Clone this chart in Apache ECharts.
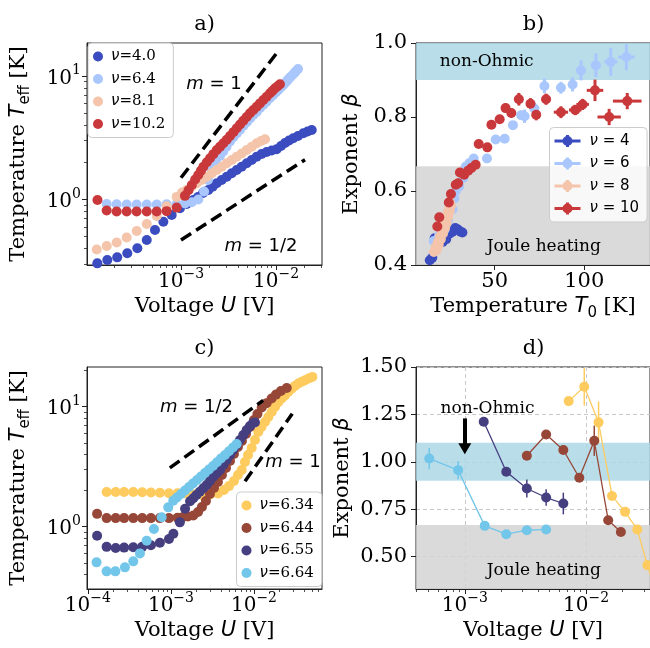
<!DOCTYPE html>
<html><head><meta charset="utf-8">
<script src="https://cdn.jsdelivr.net/npm/echarts@6/dist/echarts.min.js"></script>
<style>html,body{margin:0;padding:0;background:#fff}#c{width:650px;height:648px}</style>
</head><body><div id="c"></div>
<script>
// ---------------- data ----------------
// panel a: [U (V), T_eff (K)]
const aNu40 = [[1.315e-4,0.304],[1.675e-4,0.324],[2.13e-4,0.340],[2.72e-4,0.367],[3.47e-4,0.403],[4.36e-4,0.470],[5.32e-4,0.566],[6.52e-4,0.661],[7.98e-4,0.749],[9.76e-4,0.849],[1.148e-3,0.92],[1.346e-3,0.991],[1.51e-3,1.048],[1.705e-3,1.129],[1.94e-3,1.194],[2.15e-3,1.27],[2.377e-3,1.352],[2.68e-3,1.438],[3.03e-3,1.53],[3.42e-3,1.63],[3.86e-3,1.733],[4.35e-3,1.844],[4.92e-3,1.964],[5.55e-3,2.089],[6.26e-3,2.222],[7.06e-3,2.336],[7.98e-3,2.425],[9.01e-3,2.493],[1.016e-2,2.55],[1.129e-2,2.71],[1.245e-2,2.868],[1.372e-2,3.004],[1.52e-2,3.13],[1.705e-2,3.27],[1.94e-2,3.435],[2.15e-2,3.553],[2.377e-2,3.655]];
const aNu64 = [[1.65e-4,0.92],[2.10e-4,0.915],[2.68e-4,0.91],[3.41e-4,0.91],[4.36e-4,0.91],[5.55e-4,0.91],[7.06e-4,0.915],[9.0e-4,0.92],[1.1e-3,0.93],[1.3e-3,0.95],[1.52e-3,1.0],[1.75e-3,1.16],[1.92e-3,1.44],[2.12e-3,1.73],[2.33e-3,1.98],[2.57e-3,2.25],[2.78e-3,2.45],[3.01e-3,2.68],[3.28e-3,2.95],[3.57e-3,3.2],[3.86e-3,3.42],[4.18e-3,3.67],[4.55e-3,3.95],[4.95e-3,4.25],[5.36e-3,4.55],[5.8e-3,4.85],[6.28e-3,5.15],[6.79e-3,5.5],[7.35e-3,5.85],[7.94e-3,6.2],[8.6e-3,6.6],[9.3e-3,7.0],[1.0e-2,7.4],[1.062e-2,7.75],[1.13e-2,8.1],[1.199e-2,8.5],[1.27e-2,8.9],[1.337e-2,9.35],[1.42e-2,9.8],[1.51e-2,10.3],[1.6e-2,10.8],[1.705e-2,11.4]];
const aNu81 = [[1.297e-4,0.394],[1.652e-4,0.42],[2.105e-4,0.449],[2.68e-4,0.492],[3.42e-4,0.556],[4.36e-4,0.633],[5.55e-4,0.735],[7.06e-4,0.88],[9.0e-4,1.05],[1.025e-3,1.14],[1.148e-3,1.194],[1.297e-3,1.274],[1.464e-3,1.352],[1.652e-3,1.438],[1.866e-3,1.53],[2.106e-3,1.63],[2.377e-3,1.733],[2.68e-3,1.844],[3.03e-3,1.964],[3.42e-3,2.089],[3.86e-3,2.222],[4.35e-3,2.358],[4.92e-3,2.518],[5.55e-3,2.676],[6.26e-3,2.85],[6.96e-3,2.98],[7.66e-3,3.07]];
const aNu102 = [[1.32e-4,0.99],[1.65e-4,0.815],[2.10e-4,0.80],[2.68e-4,0.80],[3.41e-4,0.80],[4.36e-4,0.80],[5.55e-4,0.80],[7.06e-4,0.805],[9.0e-4,0.86],[1.10e-3,1.07],[1.20e-3,1.19],[1.30e-3,1.31],[1.41e-3,1.45],[1.52e-3,1.58],[1.62e-3,1.71],[1.72e-3,1.84],[1.87e-3,2.0],[2.02e-3,2.16],[2.19e-3,2.33],[2.38e-3,2.52],[2.58e-3,2.68],[2.79e-3,2.85],[3.03e-3,3.05],[3.28e-3,3.27],[3.56e-3,3.51],[3.86e-3,3.77],[4.18e-3,4.05],[4.53e-3,4.35],[4.91e-3,4.66],[5.32e-3,4.99],[5.77e-3,5.31],[6.26e-3,5.64],[6.78e-3,6.0],[7.35e-3,6.39],[7.97e-3,6.8],[8.65e-3,7.24],[9.2e-3,7.6],[9.76e-3,7.95],[1.04e-2,8.25],[1.10e-2,8.57]];
const aSlope1 = [[1e-3,1.5],[1.016e-2,15.3]];
const aSlopeHalf = [[1e-3,0.47],[2.02e-2,2.1]];

// panel b: [T0 (K), beta, errT, errBeta]
const bNu4 = [[13.8,0.413,0.8,0.006],[15.2,0.42,0.8,0.006],[16.5,0.472,0.8,0.008],[18.5,0.466,0.9,0.008],[21.0,0.462,1.0,0.008],[23.0,0.47,1.0,0.008],[25.0,0.485,1.0,0.008],[26.5,0.49,1.2,0.008],[28.0,0.5,1.2,0.008],[29.5,0.496,1.5,0.008],[31.0,0.49,2.0,0.008],[32.0,0.488,2.0,0.008]];
const bNu6 = [[16,0.465,0.5,0.005],[19,0.48,0.5,0.005],[22,0.495,0.5,0.005],[24,0.52,0.5,0.005],[26.5,0.55,0.5,0.005],[27.5,0.58,0.5,0.005],[28.3,0.60,0.5,0.005],[30.2,0.612,0.6,0.006],[32.4,0.635,0.6,0.006],[33.9,0.666,0.7,0.006],[36.1,0.676,0.8,0.007],[38.3,0.688,0.8,0.007],[45.7,0.688,1.0,0.008],[50.6,0.739,1.0,0.008],[55.6,0.741,1.2,0.009],[60.2,0.778,1.2,0.01],[64.8,0.805,1.5,0.012],[66.7,0.802,1.5,0.018],[72.2,0.823,1.5,0.015],[77.8,0.884,1.5,0.02],[87.0,0.879,2.0,0.016],[93.5,0.888,2.0,0.019],[98.2,0.926,2.2,0.027],[106.5,0.940,2.8,0.032],[114.8,0.949,3.7,0.038],[123.5,0.962,4.6,0.036]];
const bNu8 = [[16.1,0.435,0.3,0.004],[17.2,0.449,0.3,0.004],[17.6,0.44,0.3,0.004],[18.3,0.462,0.3,0.004],[18.8,0.455,0.3,0.004],[19.4,0.476,0.3,0.004],[20.0,0.47,0.3,0.004],[20.6,0.489,0.3,0.004],[21.2,0.485,0.3,0.004],[21.4,0.503,0.3,0.004],[22.2,0.516,0.3,0.004],[22.3,0.5,0.3,0.004],[23.1,0.53,0.3,0.004],[23.2,0.515,0.3,0.004],[23.9,0.543,0.3,0.004],[24.0,0.53,0.3,0.004],[24.7,0.557,0.3,0.004],[25.0,0.545,0.3,0.004],[25.0,0.57,0.3,0.004],[25.6,0.56,0.3,0.004]];
const bNu10 = [[18.0,0.504,0.6,0.008],[19.1,0.529,0.6,0.008],[24.4,0.569,0.7,0.008],[25.6,0.592,0.7,0.008],[28.3,0.617,0.8,0.008],[29.6,0.621,0.8,0.008],[30.6,0.650,0.8,0.008],[33.0,0.644,0.9,0.008],[35.2,0.655,0.9,0.008],[37.0,0.662,1.0,0.009],[39.4,0.671,1.0,0.009],[41.1,0.727,1.0,0.01],[45.9,0.718,1.2,0.01],[48.2,0.779,1.2,0.01],[52.8,0.794,1.3,0.01],[56.1,0.824,1.4,0.012],[59.3,0.811,1.5,0.012],[63.5,0.848,1.6,0.017],[70.0,0.836,1.8,0.015],[73.2,0.806,2.0,0.015],[78.7,0.848,2.5,0.015],[87.0,0.813,4.0,0.016],[95.0,0.819,3.5,0.014],[99.1,0.834,3.5,0.015],[106.0,0.872,4.6,0.029],[113.9,0.800,6.5,0.022],[124.0,0.843,8.0,0.022]];
const bBandOhmic = [0.9, 1.0];
const bBandJoule = [0.4, 0.6667];

// panel c: [U (V), T_eff (K)]
const cNu634 = [[1.68e-4,1.95],[2.16e-4,1.95],[2.73e-4,1.95],[3.52e-4,1.95],[4.51e-4,1.94],[5.74e-4,1.93],[7.36e-4,1.92],[9.46e-4,1.90],[1.2e-3,1.90],[1.52e-3,1.89],[1.89e-3,1.855],[2.36e-3,1.837],[2.95e-3,1.855],[3.68e-3,1.89],[4.35e-3,2.02],[5.0e-3,2.18],[5.74e-3,2.40],[6.41e-3,2.70],[7.11e-3,2.97],[7.79e-3,3.46],[8.48e-3,3.96],[9.38e-3,4.53],[1.028e-2,5.28],[1.127e-2,6.15],[1.231e-2,6.77],[1.357e-2,7.46],[1.487e-2,8.2],[1.633e-2,9.03],[1.79e-2,9.94],[1.96e-2,10.9],[2.16e-2,11.7],[2.36e-2,12.4],[2.59e-2,13.3],[2.84e-2,14.1],[3.12e-2,14.9],[3.42e-2,15.6],[3.76e-2,16.1],[4.12e-2,16.6],[4.56e-2,17.2],[5.04e-2,17.7]];
const cNu644 = [[1.29e-4,1.28],[1.68e-4,1.18],[2.16e-4,1.18],[2.73e-4,1.18],[3.52e-4,1.18],[4.51e-4,1.18],[5.74e-4,1.18],[7.36e-4,1.18],[9.46e-4,1.18],[1.2e-3,1.19],[1.40e-3,1.205],[1.60e-3,1.216],[1.86e-3,1.24],[2.12e-3,1.326],[2.36e-3,1.459],[2.64e-3,1.637],[2.95e-3,1.873],[3.30e-3,2.10],[3.68e-3,2.36],[4.11e-3,2.70],[4.60e-3,3.08],[5.14e-3,3.53],[5.74e-3,4.04],[6.41e-3,4.62],[7.16e-3,5.18],[8.01e-3,5.92],[8.95e-3,6.77],[1.0e-2,7.75],[1.10e-2,8.69],[1.24e-2,9.85],[1.42e-2,10.7],[1.63e-2,11.7],[1.84e-2,12.6],[2.11e-2,13.5],[2.48e-2,14.3]];
const cNu655 = [[1.29e-4,0.84],[1.68e-4,0.68],[2.16e-4,0.665],[2.73e-4,0.67],[3.52e-4,0.675],[4.51e-4,0.68],[5.74e-4,0.70],[7.36e-4,0.735],[9.46e-4,0.79],[1.07e-3,0.874],[1.28e-3,1.088],[1.48e-3,1.41],[1.70e-3,1.63],[1.86e-3,1.725],[2.03e-3,1.837],[2.23e-3,1.957],[2.45e-3,2.09],[2.69e-3,2.226],[2.95e-3,2.40],[3.24e-3,2.61],[3.56e-3,2.786],[3.89e-3,2.97],[4.27e-3,3.27],[4.69e-3,3.59],[5.14e-3,3.96],[5.64e-3,4.36],[6.19e-3,4.80],[6.78e-3,5.28],[7.43e-3,5.81],[8.16e-3,6.39],[8.95e-3,6.90],[9.73e-3,7.31],[1.028e-2,7.38]];
const cNu664 = [[1.27e-4,0.505],[1.68e-4,0.425],[2.14e-4,0.425],[2.79e-4,0.459],[3.52e-4,0.515],[4.23e-4,0.60],[5.1e-4,0.765],[6.24e-4,0.957],[7.73e-4,1.198],[9.28e-4,1.45],[1.066e-3,1.646],[1.18e-3,1.751],[1.32e-3,1.873],[1.475e-3,2.003],[1.65e-3,2.142],[1.84e-3,2.291],[2.06e-3,2.449],[2.30e-3,2.62],[2.57e-3,2.80],[2.87e-3,3.00],[3.21e-3,3.21],[3.58e-3,3.44],[4.00e-3,3.70],[4.48e-3,3.96],[5.0e-3,4.25],[5.58e-3,4.57],[6.19e-3,4.89]];
const cSlopeHalf = [[9.7e-4,3.09],[1.29e-2,11.3]];
const cSlope1 = [[7.8e-3,2.39],[2.89e-2,8.75]];

// panel d: [U (V), beta, errBeta]
const dNu634 = [[7.2e-3,1.32,0.015],[9.68e-3,1.396,0.1],[1.27e-2,1.208,0.11],[1.64e-2,0.82,0.015],[2.10e-2,0.736,0.012],[2.65e-2,0.643,0.012],[3.21e-2,0.455,0.015],[3.8e-2,0.30,0.01]];
const dNu644 = [[3.25e-3,1.032,0.01],[4.69e-3,1.144,0.01],[6.50e-3,1.062,0.012],[8.81e-3,0.916,0.01],[1.17e-2,1.111,0.08],[1.525e-2,0.692,0.015],[1.94e-2,0.630,0.012]];
const dNu655 = [[1.433e-3,1.211,0.02],[2.20e-3,0.947,0.02],[3.25e-3,0.859,0.047],[4.69e-3,0.8115,0.044],[6.50e-3,0.78,0.057]];
const dNu664 = [[5.09e-4,1.017,0.056],[8.81e-4,0.956,0.048],[1.46e-3,0.662,0.01],[2.20e-3,0.618,0.01],[3.25e-3,0.639,0.01],[4.69e-3,0.643,0.01]];
const dBandOhmic = [0.9, 1.1];
const dBandJoule = [0.329, 0.6667];
const dArrow = [[1e-3,1.229],[1e-3,1.069]];

// tick values
const aXTicks = [1e-3, 1e-2];
const aYTicks = [1, 10];
const bXTicks = [50, 100];
const bYTicks = [0.4, 0.6, 0.8, 1.0];
const cXTicks = [1e-4, 1e-3, 1e-2];
const cYTicks = [1, 10];
const dXTicks = [1e-3, 1e-2];
const dYTicks = [0.5, 0.75, 1.0, 1.25, 1.5];

// ---------------- style helpers ----------------
const SERIF = 'DejaVu Serif';
const SANS = 'DejaVu Sans';
const INK = '#222';
const colA = ['#3b4cc0', '#aac7fd', '#f4c4ab', '#c9383a'];
const colC = ['#fecb5e', '#974737', '#453f80', '#72c6ea'];
const blueBand = 'rgba(173,216,230,0.85)';
const grayBand = 'rgba(211,211,211,0.85)';

function minorLog(min, max) {
  const out = [];
  for (let e = Math.floor(Math.log10(min)); e <= Math.ceil(Math.log10(max)); e++) {
    for (let k = 2; k <= 9; k++) { const v = k * Math.pow(10, e); if (v >= min && v <= max) out.push(v); }
  }
  return out;
}
function pow10Label(v) {
  const e = Math.round(Math.log10(v));
  return '{b|10}{s|' + (e < 0 ? '\u2212' + (-e) : String(e)) + '}';
}
const powRich = {
  b: { fontFamily: SERIF, fontSize: 20, color: '#000', verticalAlign: 'bottom', padding: [5, 0, 0, 0] },
  s: { fontFamily: SERIF, fontSize: 14, color: '#000', verticalAlign: 'top' }
};
const nameStyle = {
  fontFamily: SERIF, fontSize: 21, color: '#000',
  rich: {
    r: { fontFamily: SERIF, fontSize: 21, color: '#000', verticalAlign: 'top' },
    i: { fontFamily: SANS, fontStyle: 'italic', fontSize: 21, color: '#000', verticalAlign: 'top' },
    sub: { fontFamily: SANS, fontSize: 15, color: '#000', verticalAlign: 'top', padding: [10, 0, 0, 0] }
  }
};
const lineStyleAx = { color: INK, width: 1 };

function mainAxis(o) {
  const ax = {
    gridIndex: o.grid, type: o.type, position: o.pos, min: o.min, max: o.max,
    axisLine: { show: true, onZero: false, lineStyle: lineStyleAx },
    axisTick: { show: true, length: 5, customValues: o.ticks, lineStyle: lineStyleAx },
    axisLabel: { show: true, customValues: o.ticks, margin: o.margin, color: '#000', fontFamily: SERIF, fontSize: 21, formatter: o.fmt },
    splitLine: { show: !!o.split, lineStyle: { color: '#c8c8c8', width: 1, type: [4, 3] } },
    name: o.name, nameLocation: 'middle', nameGap: o.gap, nameTextStyle: nameStyle,
    silent: true
  };
  if (o.type === 'log') { ax.logBase = 10; ax.axisLabel.rich = powRich; }
  return ax;
}
function minorAxis(o) {
  return {
    gridIndex: o.grid, type: 'log', logBase: 10, position: o.pos, min: o.min, max: o.max,
    axisLine: { show: false }, axisLabel: { show: false }, splitLine: { show: false },
    axisTick: { show: true, length: 3, customValues: minorLog(o.min, o.max), lineStyle: { color: INK, width: 0.8 } },
    silent: true
  };
}

const AX = {
  a: { x: [1.024e-4, 0.03049], y: [0.2949, 18.5] },
  b: { x: [6.1, 136.7], y: [0.4, 1.0] },
  c: { x: [9.75e-5, 0.06595], y: [0.303, 21.4] },
  d: { x: [3.957e-4, 0.03374], y: [0.329, 1.5] }
};

const xAxis = [
  mainAxis({ grid: 0, type: 'log', pos: 'bottom', min: AX.a.x[0], max: AX.a.x[1], ticks: aXTicks, fmt: pow10Label, margin: 2, name: '{r|Voltage }{i|U}{r| [V]}', gap: 31 }),
  minorAxis({ grid: 0, pos: 'bottom', min: AX.a.x[0], max: AX.a.x[1] }),
  mainAxis({ grid: 1, type: 'value', pos: 'bottom', min: AX.b.x[0], max: AX.b.x[1], ticks: bXTicks, fmt: v => String(v), margin: 6, name: '{r|Temperature }{i|T}{sub|0}{r| [K]}', gap: 31 }),
  mainAxis({ grid: 2, type: 'log', pos: 'bottom', min: AX.c.x[0], max: AX.c.x[1], ticks: cXTicks, fmt: pow10Label, margin: 2, name: '{r|Voltage }{i|U}{r| [V]}', gap: 31 }),
  minorAxis({ grid: 2, pos: 'bottom', min: AX.c.x[0], max: AX.c.x[1] }),
  mainAxis({ grid: 3, type: 'log', pos: 'bottom', min: AX.d.x[0], max: AX.d.x[1], ticks: dXTicks, fmt: pow10Label, margin: 2, name: '{r|Voltage }{i|U}{r| [V]}', gap: 31, split: true }),
  minorAxis({ grid: 3, pos: 'bottom', min: AX.d.x[0], max: AX.d.x[1] })
];
const yAxis = [
  mainAxis({ grid: 0, type: 'log', pos: 'left', min: AX.a.y[0], max: AX.a.y[1], ticks: aYTicks, fmt: pow10Label, margin: 6, name: '{r|Temperature }{i|T}{sub|eff}{r| [K]}', gap: 54 }),
  minorAxis({ grid: 0, pos: 'left', min: AX.a.y[0], max: AX.a.y[1] }),
  mainAxis({ grid: 1, type: 'value', pos: 'left', min: AX.b.y[0], max: AX.b.y[1], ticks: bYTicks, fmt: v => v.toFixed(1), margin: 9, name: '{r|Exponent }{i|β}', gap: 54 }),
  mainAxis({ grid: 2, type: 'log', pos: 'left', min: AX.c.y[0], max: AX.c.y[1], ticks: cYTicks, fmt: pow10Label, margin: 6, name: '{r|Temperature }{i|T}{sub|eff}{r| [K]}', gap: 54 }),
  minorAxis({ grid: 2, pos: 'left', min: AX.c.y[0], max: AX.c.y[1] }),
  mainAxis({ grid: 3, type: 'value', pos: 'left', min: AX.d.y[0], max: AX.d.y[1], ticks: dYTicks, fmt: v => v.toFixed(2), margin: 9, name: '{r|Exponent }{i|β}', gap: 63, split: true })
];

function scatter(name, data, xi, yi, color) {
  return { type: 'scatter', name, data, xAxisIndex: xi, yAxisIndex: yi, symbol: 'circle', symbolSize: 10,
    itemStyle: { color, opacity: 1 }, emphasis: { disabled: true }, z: 2 };
}
function dashed(data, xi, yi) {
  return { type: 'line', data, xAxisIndex: xi, yAxisIndex: yi, symbol: 'none', silent: true, z: 5,
    lineStyle: { color: '#000', width: 3.5, type: [12, 6] } };
}
function errBars(name, data, xi, yi, color, lw, hasX) {
  return {
    type: 'custom', name, data, xAxisIndex: xi, yAxisIndex: yi, clip: true, silent: true, z: 2,
    encode: { x: 0, y: 1 },
    renderItem: function (params, api) {
      const x = api.value(0), y = api.value(1);
      const ex = hasX ? api.value(2) : 0;
      const ey = hasX ? api.value(3) : api.value(2);
      const t = api.coord([x, y + ey]), b = api.coord([x, y - ey]);
      const ch = [{ type: 'line', shape: { x1: t[0], y1: t[1], x2: b[0], y2: b[1] }, style: { stroke: color, lineWidth: lw } }];
      if (ex > 0) {
        const l = api.coord([x - ex, y]), r = api.coord([x + ex, y]);
        ch.push({ type: 'line', shape: { x1: l[0], y1: l[1], x2: r[0], y2: r[1] }, style: { stroke: color, lineWidth: lw } });
      }
      return { type: 'group', children: ch };
    }
  };
}
function bands(xi, yi, ohm, joule) {
  return { type: 'line', data: [], xAxisIndex: xi, yAxisIndex: yi, silent: true, z: 1,
    markArea: { silent: true, z: 1, data: [
      [{ yAxis: ohm[0], itemStyle: { color: blueBand } }, { yAxis: ohm[1] }],
      [{ yAxis: joule[0], itemStyle: { color: grayBand } }, { yAxis: joule[1] }]
    ] } };
}
function dLine(name, data, color) {
  return { type: 'line', name, data: data.map(p => [p[0], p[1]]), xAxisIndex: 5, yAxisIndex: 5,
    symbol: 'circle', symbolSize: 10, showSymbol: true, clip: true, z: 3,
    lineStyle: { color, width: 1.3 }, itemStyle: { color }, emphasis: { disabled: true } };
}

const series = [
  // panel a
  scatter('ν=4.0', aNu40, 0, 0, colA[0]),
  scatter('ν=6.4', aNu64, 0, 0, colA[1]),
  scatter('ν=8.1', aNu81, 0, 0, colA[2]),
  scatter('ν=10.2', aNu102, 0, 0, colA[3]),
  dashed(aSlope1, 0, 0),
  dashed(aSlopeHalf, 0, 0),
  // panel b
  bands(2, 2, bBandOhmic, bBandJoule),
  errBars('e4', bNu4, 2, 2, colA[0], 3, true), scatter('ν = 4', bNu4.map(p => [p[0], p[1]]), 2, 2, colA[0]),
  errBars('e6', bNu6, 2, 2, colA[1], 3, true), scatter('ν = 6', bNu6.map(p => [p[0], p[1]]), 2, 2, colA[1]),
  errBars('e8', bNu8, 2, 2, colA[2], 3, true), scatter('ν = 8', bNu8.map(p => [p[0], p[1]]), 2, 2, colA[2]),
  errBars('e10', bNu10, 2, 2, colA[3], 3, true), scatter('ν = 10', bNu10.map(p => [p[0], p[1]]), 2, 2, colA[3]),
  // panel c
  scatter('ν=6.34', cNu634, 3, 3, colC[0]),
  scatter('ν=6.44', cNu644, 3, 3, colC[1]),
  scatter('ν=6.55', cNu655, 3, 3, colC[2]),
  scatter('ν=6.64', cNu664, 3, 3, colC[3]),
  dashed(cSlopeHalf, 3, 3),
  dashed(cSlope1, 3, 3),
  // panel d
  bands(5, 5, dBandOhmic, dBandJoule),
  errBars('d1', dNu634, 5, 5, colC[0], 1.5, false), dLine('d ν=6.34', dNu634, colC[0]),
  errBars('d2', dNu644, 5, 5, colC[1], 1.5, false), dLine('d ν=6.44', dNu644, colC[1]),
  errBars('d3', dNu655, 5, 5, colC[2], 1.5, false), dLine('d ν=6.55', dNu655, colC[2]),
  errBars('d4', dNu664, 5, 5, colC[3], 1.5, false), dLine('d ν=6.64', dNu664, colC[3]),
  { type: 'line', data: [], xAxisIndex: 5, yAxisIndex: 5, silent: true, z: 6,
    markLine: { silent: true, symbol: ['none', 'triangle'], symbolSize: [13, 11], label: { show: false },
      lineStyle: { color: '#000', width: 4, type: 'solid' },
      data: [[{ coord: dArrow[0] }, { coord: dArrow[1] }]] } }
];

const legendCommon = {
  orient: 'vertical', selectedMode: false, itemGap: 7.5, padding: [6, 8, 6, 5],
  backgroundColor: 'rgba(255,255,255,0.8)', borderColor: '#cccccc', borderWidth: 1, borderRadius: 4,
  formatter: n => '{i|ν}' + n.slice(1)
};
const legTextSerif = { fontFamily: SERIF, fontSize: 15, lineHeight: 15, color: '#000', padding: [0, 0, 0, 3],
  rich: { i: { fontFamily: SANS, fontStyle: 'italic', fontSize: 15, color: '#000' } } };
const legTextSans = { fontFamily: SANS, fontSize: 15, lineHeight: 15, color: '#000', padding: [0, 0, 0, 4],
  rich: { i: { fontFamily: SANS, fontStyle: 'italic', fontSize: 15, color: '#000' } } };
const ebIcon = 'path://M0,4.5h26v3h-26z M8,6a5,5 0 1,1 10,0a5,5 0 1,1 -10,0z M11.5,0h3v12h-3z';

const legend = [
  Object.assign({}, legendCommon, { left: 88, top: 43, icon: 'circle', itemWidth: 10, itemHeight: 10, textStyle: legTextSerif,
    data: ['ν=4.0', 'ν=6.4', 'ν=8.1', 'ν=10.2'] }),
  Object.assign({}, legendCommon, { left: 549.5, top: 127.5, icon: ebIcon, itemWidth: 26, itemHeight: 12, textStyle: legTextSans,
    data: ['ν = 4', 'ν = 6', 'ν = 8', 'ν = 10'] }),
  Object.assign({}, legendCommon, { left: 236.5, top: 492, icon: 'circle', itemWidth: 10, itemHeight: 10, textStyle: legTextSerif,
    data: ['ν=6.34', 'ν=6.44', 'ν=6.55', 'ν=6.64'] })
];

function txt(x, y, text, family, size, rich) {
  const st = { text, fontFamily: family, fontSize: size, fill: '#000', align: 'center', verticalAlign: 'middle' };
  if (rich) st.rich = rich;
  return { type: 'text', x, y, z: 100, silent: true, style: st };
}
const mRich = { i: { fontFamily: SANS, fontStyle: 'italic', fontSize: 18, fill: '#000' } };
const graphic = [
  txt(204.5, 25, 'a)', SERIF, 21), txt(533.5, 25, 'b)', SERIF, 21),
  txt(204.5, 349, 'c)', SERIF, 21), txt(533.5, 349, 'd)', SERIF, 21),
  txt(214, 84, '{i|m} = 1', SANS, 18, mRich), txt(261, 246.5, '{i|m} = 1/2', SANS, 18, mRich),
  txt(196.5, 407, '{i|m} = 1/2', SANS, 18, mRich), txt(293, 462, '{i|m} = 1', SANS, 18, mRich),
  txt(486.7, 61.7, 'non-Ohmic', SERIF, 17), txt(543.8, 246.5, 'Joule heating', SERIF, 17),
  txt(487.5, 408.7, 'non-Ohmic', SERIF, 17), txt(543.7, 570.3, 'Joule heating', SERIF, 17)
];

const gridStyle = { show: true, borderColor: INK, borderWidth: 1, backgroundColor: 'transparent', containLabel: false };
const option = {
  animation: false,
  backgroundColor: '#ffffff',
  grid: [
    Object.assign({ left: 87, top: 43, width: 235, height: 222 }, gridStyle),
    Object.assign({ left: 416, top: 43, width: 235, height: 222 }, gridStyle),
    Object.assign({ left: 87, top: 367, width: 235, height: 222 }, gridStyle),
    Object.assign({ left: 416, top: 367, width: 235, height: 222 }, gridStyle)
  ],
  xAxis, yAxis, legend, series, graphic
};
const chart = echarts.init(document.getElementById('c'), null, { renderer: 'canvas' });
chart.setOption(option);
</script></body></html>
